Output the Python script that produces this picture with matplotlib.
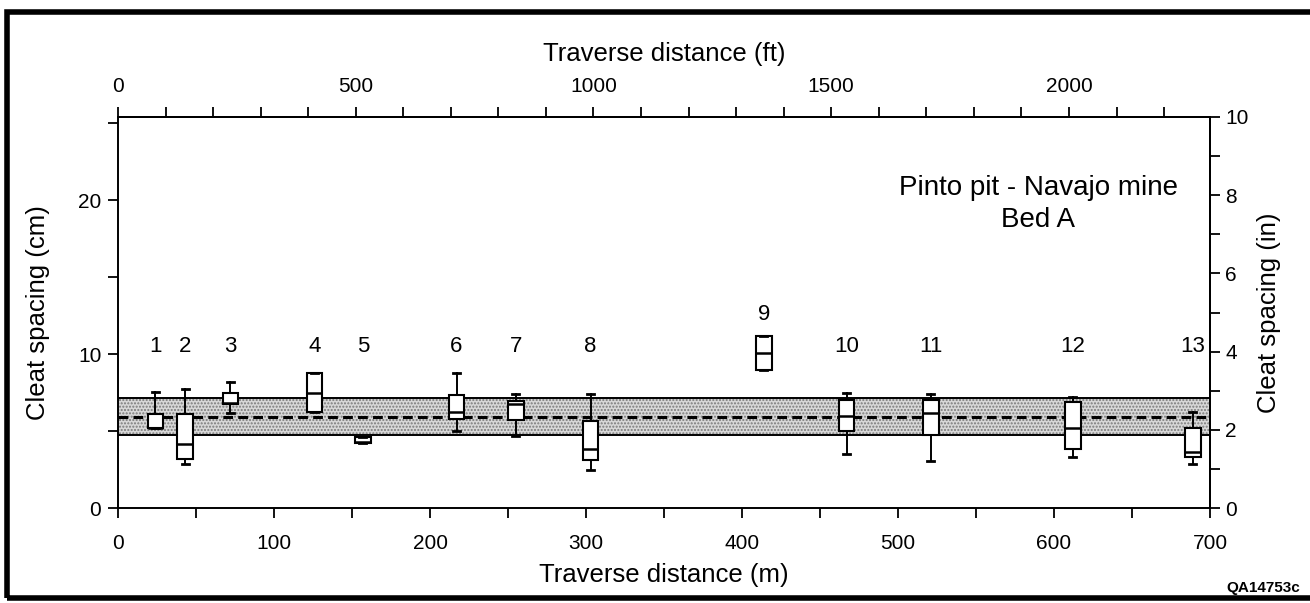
import matplotlib
matplotlib.use('Agg')
import matplotlib.pyplot as plt
from matplotlib.ticker import MultipleLocator, FixedLocator

plt.rcParams['font.family'] = ['Liberation Sans', 'DejaVu Sans']

# station positions along the traverse (m) and cleat spacing stats (cm)
stations = ['1', '2', '3', '4', '5', '6', '7', '8', '9', '10', '11', '12', '13']
pos_m = [24, 43, 72, 126, 157, 217, 255, 303, 414, 467, 521, 612, 689]
q1 = [5.18, 3.21, 6.75, 6.21, 4.24, 5.76, 5.72, 3.10, 8.97, 4.97, 4.71, 3.85, 3.31]
q3 = [6.11, 6.11, 7.50, 8.75, 4.60, 7.34, 6.97, 5.68, 11.16, 7.01, 7.01, 6.86, 5.18]
med = [5.20, 4.13, 6.84, 7.46, 4.26, 6.21, 6.75, 3.85, 10.05, 6.00, 6.17, 5.18, 3.63]
whislo = [5.18, 2.84, 6.17, 6.21, 4.24, 4.97, 4.66, 2.50, 8.97, 3.53, 3.05, 3.31, 2.88]
whishi = [7.55, 7.76, 8.19, 8.75, 4.60, 8.75, 7.40, 7.40, 11.16, 7.50, 7.40, 7.18, 6.21]
label_y = [10.5, 10.5, 10.5, 10.5, 10.5, 10.5, 10.5, 10.5, 12.6, 10.5, 10.5, 10.5, 10.5]

# overall mean and band
band_lo, band_hi = 4.71, 7.12
mean_all = 5.89

# top axis ticks (ft)
ft_major = [0, 500, 1000, 1500, 2000]
ft_minor = list(range(0, 2300, 100))

fs_tick = 15
fs_lab = 18.5

fig = plt.figure(figsize=(13.1, 6.03), dpi=100)
ax = fig.add_axes([118/1310, 95/603, 1092/1310, 391/603])

ax.fill_between([0, 700], band_lo, band_hi, facecolor='#d8d8d8', edgecolor='#7a7a7a',
                hatch='.....', linewidth=0, zorder=1)
ax.hlines([band_lo, band_hi], 0, 700, color='black', lw=1.4, zorder=2)
ax.hlines(mean_all, 0, 700, color='black', lw=2.2, linestyles=(0, (3.2, 1.7)), zorder=2)

stats = []
for i in range(len(pos_m)):
    stats.append(dict(med=med[i], q1=q1[i], q3=q3[i], whislo=whislo[i], whishi=whishi[i], fliers=[]))
bp = ax.bxp(stats, positions=pos_m, widths=10, capwidths=4.5, manage_ticks=False,
            patch_artist=True,
            boxprops=dict(facecolor='white', edgecolor='black', lw=1.5),
            medianprops=dict(color='black', lw=1.8),
            whiskerprops=dict(color='black', lw=1.4),
            capprops=dict(color='black', lw=2))
for art in bp['boxes'] + bp['medians'] + bp['whiskers'] + bp['caps']:
    art.set_zorder(3)

for s, x, y in zip(stations, pos_m, label_y):
    ax.text(x, y, s, ha='center', va='center', fontsize=16)

ax.text(590, 20.8, 'Pinto pit - Navajo mine', ha='center', va='center', fontsize=20)
ax.text(590, 18.7, 'Bed A', ha='center', va='center', fontsize=20)

ax.set_xlim(0, 700)
ax.set_ylim(0, 25.4)
ax.xaxis.set_major_locator(MultipleLocator(100))
ax.xaxis.set_minor_locator(MultipleLocator(50))
ax.yaxis.set_major_locator(MultipleLocator(10))
ax.yaxis.set_minor_locator(MultipleLocator(5))
ax.tick_params(which='both', direction='out', length=7, width=1.3, labelsize=fs_tick)
ax.tick_params(axis='x', pad=12)
ax.tick_params(axis='y', pad=5)
for sp in ax.spines.values():
    sp.set_linewidth(1.4)

ax.set_xlabel('Traverse distance (m)', fontsize=fs_lab)
ax.xaxis.set_label_coords(0.5, -0.14)
ax.set_ylabel('Cleat spacing (cm)', fontsize=fs_lab)
ax.yaxis.set_label_coords(-0.062, 0.5)

top = ax.secondary_xaxis('top', functions=(lambda m: m / 0.3048, lambda f: f * 0.3048))
top.xaxis.set_major_locator(FixedLocator(ft_major))
top.xaxis.set_minor_locator(FixedLocator(ft_minor))
top.tick_params(which='both', direction='out', length=7, width=1.3, labelsize=fs_tick, pad=8)
top.spines['top'].set_linewidth(1.4)
ax.text(0.5, 1.161, 'Traverse distance (ft)', transform=ax.transAxes,
        ha='center', va='center', fontsize=fs_lab)

right = ax.secondary_yaxis('right', functions=(lambda c: c / 2.54, lambda i: i * 2.54))
right.yaxis.set_major_locator(FixedLocator([0, 2, 4, 6, 8, 10]))
right.yaxis.set_minor_locator(FixedLocator([1, 3, 5, 7, 9]))
right.tick_params(which='both', direction='out', length=7, width=1.3, labelsize=fs_tick, pad=4)
right.spines['right'].set_linewidth(1.4)
right.set_ylabel('Cleat spacing (in)', fontsize=fs_lab, labelpad=6)

fig.patches.append(plt.Rectangle((7/1310, 5/603), 1.1, 586/603, transform=fig.transFigure,
                                 fill=False, edgecolor='black', lw=4, figure=fig))
fig.text(1263/1310, 15/603, 'QA14753c', ha='center', va='center', fontsize=11, weight='bold')

fig.savefig('out.png', dpi=100)
